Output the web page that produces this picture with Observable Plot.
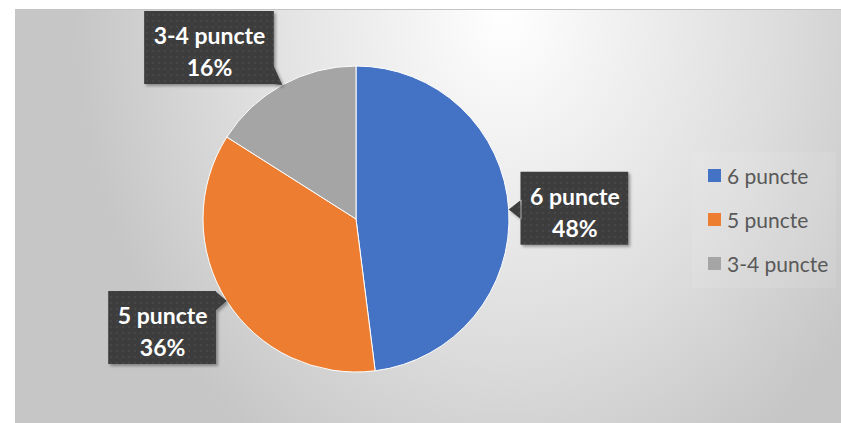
<!DOCTYPE html>
<html>
<head>
<meta charset="utf-8">
<script src="https://cdn.jsdelivr.net/npm/d3@7"></script>
<script src="https://cdn.jsdelivr.net/npm/@observablehq/plot@0.6"></script>
<style>
  html, body { margin: 0; padding: 0; background: #fff; }
  #chart { position: relative; width: 841px; height: 423px; overflow: hidden; }
  #bg {
    position: absolute; left: 15px; top: 9px; width: 826px; height: 413px;
    border-top: 1px solid #c4c4c4;
    background: radial-gradient(ellipse 430px 520px at 490px 5px, #ffffff 0%, #f4f4f4 20%, #dcdcdc 65%, #c6c6c6 100%);
  }
  #plot { position: absolute; left: 0; top: 0; }
  #legendPanel { position: absolute; left: 692px; top: 152px; width: 144px; height: 136px; background: rgba(255,255,255,0.09); }
  #legend { position: absolute; left: 708px; top: 153px; }
  .lg-swatches { margin: 0 !important; min-height: 0 !important; }
  .lg-swatch { height: 44px; padding: 0 !important; margin: 0 !important; align-items: center; }
  .lg-swatch svg { margin-right: 6px !important; }
</style>
</head>
<body>
<div id="chart">
  <div id="bg"></div>
  <div id="legendPanel"></div>
  <div id="plot"></div>
  <div id="legend"></div>
</div>
<script>
// ---- data ----
const categories = ["6 puncte", "5 puncte", "3-4 puncte"];
const percents = [48, 36, 16];
const colors = ["#4472C4", "#ED7D31", "#A5A5A5"];

// ---- layout (not data) ----
const labelRadius = 1.43;
const labelNudge = [[0, -0.02], [-0.06, 0.057], [-0.272, -0.132]];
const labelFontSize = 23;
const labelFont = `bold ${labelFontSize}px Lato`;

const data = categories.map((c, i) => ({category: c, value: percents[i], color: colors[i]}));
const arcs = d3.pie().sort(null).value(d => d.value)(data);

const labels = arcs.map((a, i) => {
  const mid = (a.startAngle + a.endAngle) / 2;
  return {
    category: a.data.category,
    text: `${a.data.category}\n${a.data.value}%`,
    lx: labelRadius * Math.sin(mid) + labelNudge[i][0],
    ly: labelRadius * Math.cos(mid) + labelNudge[i][1],
    tx: Math.sin(mid),
    ty: Math.cos(mid)
  };
});

const canvas = document.createElement("canvas");
const ctx = canvas.getContext("2d");
function textWidth(str) {
  ctx.font = labelFont;
  return Math.max(...str.split("\n").map(s => ctx.measureText(s).width));
}

function pieMark(index, {x, y}) {
  const cx = x(0), cy = y(0), r = x(1) - x(0);
  const g = d3.create("svg:g").attr("transform", `translate(${cx},${cy})`);
  const arc = d3.arc().innerRadius(0).outerRadius(r);
  g.selectAll("path").data(arcs).join("path")
    .attr("d", arc)
    .attr("fill", d => d.data.color)
    .attr("stroke", "#ffffff")
    .attr("stroke-width", 1)
    .attr("stroke-linejoin", "round");
  return g.node();
}

function calloutMark(index, {x, y}) {
  const g = d3.create("svg:g");
  const defs = g.append("defs");
  const pat = defs.append("pattern").attr("id", "dots").attr("patternUnits", "userSpaceOnUse")
    .attr("width", 6).attr("height", 6);
  pat.append("rect").attr("width", 6).attr("height", 6).attr("fill", "#3e3e3e");
  pat.append("circle").attr("cx", 3).attr("cy", 3).attr("r", 0.8).attr("fill", "#525252");
  const f = defs.append("filter").attr("id", "shadow").attr("x", "-20%").attr("y", "-20%").attr("width", "150%").attr("height", "150%");
  f.append("feDropShadow").attr("dx", 2).attr("dy", 2).attr("stdDeviation", 1.8)
    .attr("flood-color", "#000").attr("flood-opacity", 0.35);

  for (const d of labels) {
    const cx = x(d.lx), cy = y(d.ly);
    const w = textWidth(d.text) + 18, h = 73;
    const x0 = cx - w / 2, x1 = cx + w / 2, y0 = cy - h / 2, y1 = cy + h / 2;
    const tx = x(d.tx), ty = y(d.ty);
    const ox = tx < x0 ? x0 - tx : tx > x1 ? tx - x1 : 0;
    const oy = ty < y0 ? y0 - ty : ty > y1 ? ty - y1 : 0;
    const hw = 10;
    let p1, p2;
    if (ox >= oy) {
      const ex = tx < x0 ? x0 + 1 : x1 - 1;
      const yc = Math.max(y0 + hw, Math.min(y1 - hw, ty));
      p1 = [ex, yc - hw]; p2 = [ex, yc + hw];
    } else {
      const ey = ty < y0 ? y0 + 1 : y1 - 1;
      const xc = Math.max(x0 + hw, Math.min(x1 - hw, tx));
      p1 = [xc - hw, ey]; p2 = [xc + hw, ey];
    }
    const grp = g.append("g").attr("filter", "url(#shadow)");
    grp.append("path")
      .attr("d", `M${x0},${y0}H${x1}V${y1}H${x0}Z M${p1[0]},${p1[1]}L${tx},${ty}L${p2[0]},${p2[1]}Z`)
      .attr("fill", "url(#dots)");
  }
  return g.node();
}

const chart = Plot.plot({
  width: 841,
  height: 423,
  margin: 0,
  style: {background: "transparent", overflow: "visible"},
  x: {domain: [-1, 1], range: [203, 509], axis: null},
  y: {domain: [-1, 1], range: [372, 66], axis: null},
  marks: [
    pieMark,
    calloutMark,
    Plot.text(labels, {
      x: "lx", y: "ly", text: "text",
      fill: "#ffffff", fontWeight: "bold", fontSize: labelFontSize, fontFamily: "Lato",
      lineHeight: 1.4, dy: 2
    })
  ]
});
document.getElementById("plot").appendChild(chart);

const legend = Plot.legend({
  color: {domain: categories, range: colors},
  legend: "swatches",
  columns: 1,
  swatchSize: 13,
  className: "lg",
  style: {fontFamily: "Lato", fontSize: "21px", color: "#595959"}
});
document.getElementById("legend").appendChild(legend);
</script>
</body>
</html>
